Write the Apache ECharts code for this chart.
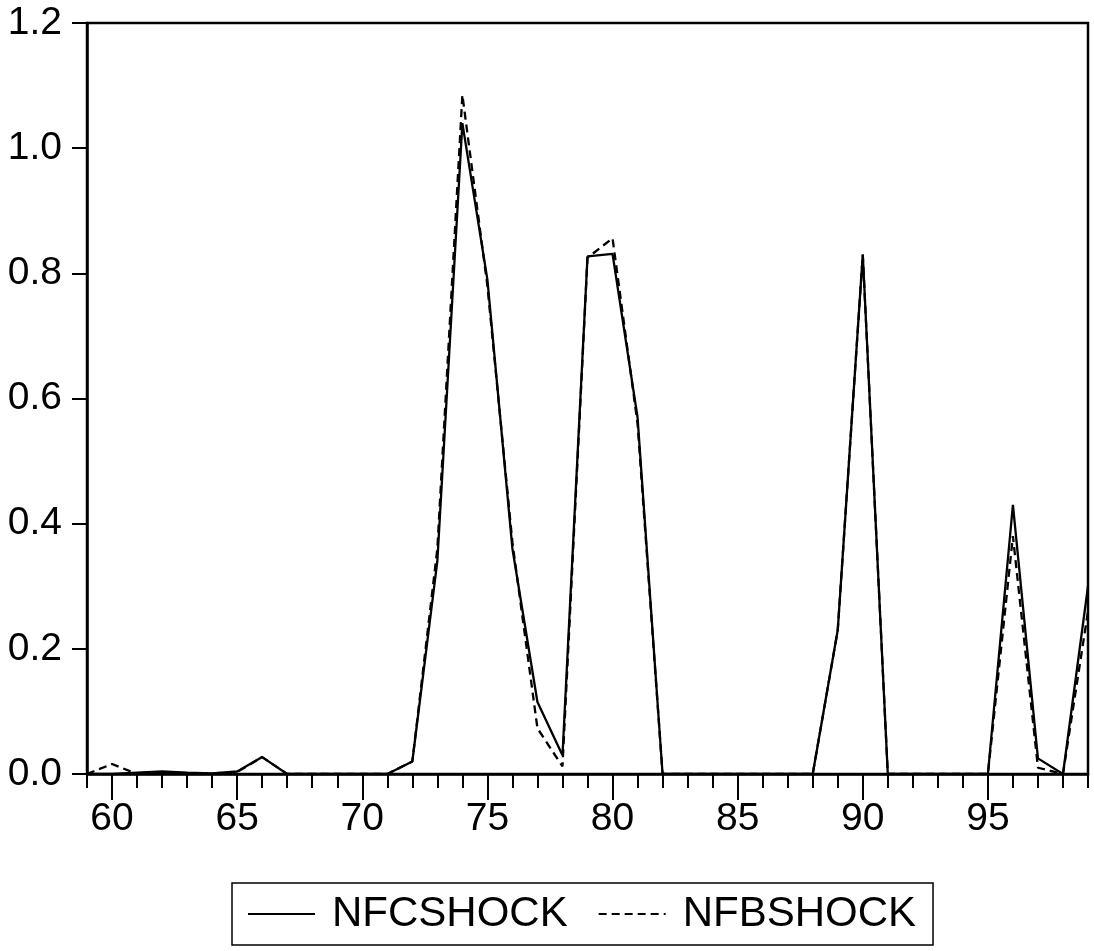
<!DOCTYPE html>
<html>
<head>
<meta charset="utf-8">
<script src="https://cdn.jsdelivr.net/npm/echarts@6/dist/echarts.min.js"></script>
<style>
html,body{margin:0;padding:0;background:#fff;}
#chart{width:1094px;height:951px;}
</style>
</head>
<body>
<div id="chart"></div>
<script>
// ---- data ----
const years = [59,60,61,62,63,64,65,66,67,68,69,70,71,72,73,74,75,76,77,78,79,80,81,82,83,84,85,86,87,88,89,90,91,92,93,94,95,96,97,98,99];
const nfcShock = [0,0,0.002,0.004,0.002,0.001,0.004,0.027,0,0,0,0,0,0.02,0.34,1.04,0.79,0.36,0.115,0.03,0.827,0.831,0.57,0,0,0,0,0,0,0,0.23,0.83,0,0,0,0,0,0.43,0.025,0,0.3];
const nfbShock = [0,0.016,0,0.002,0.001,0.001,0.003,0.027,0,0,0,0,0,0.02,0.36,1.085,0.78,0.37,0.073,0.012,0.825,0.856,0.56,0,0,0,0,0,0,0,0.23,0.83,0,0,0,0,0,0.38,0.01,0,0.26];
const xTickLabels = [60,65,70,75,80,85,90,95];
const yTickLabels = [0,0.2,0.4,0.6,0.8,1.0,1.2];
const seriesNames = ['NFCSHOCK','NFBSHOCK'];

const font = '"Liberation Sans", Arial, sans-serif';
const pairs = arr => years.map((y,i)=>[y,arr[i]]);

const chart = echarts.init(document.getElementById('chart'), null, {renderer:'canvas'});
chart.setOption({
  animation:false,
  backgroundColor:'#fff',
  grid:{left:87,right:6,top:23,bottom:177,show:true,borderColor:'#000',borderWidth:2.5,backgroundColor:'transparent'},
  xAxis:[
    {type:'value',min:59,max:99,interval:1,position:'bottom',
     axisLine:{show:true,onZero:false,lineStyle:{color:'#000',width:2.5}},
     axisTick:{show:true,inside:false,length:14,lineStyle:{color:'#000',width:2}},
     axisLabel:{show:false},splitLine:{show:false}},
    {type:'value',min:59,max:99,interval:1,position:'bottom',
     axisLine:{show:false,onZero:false},
     axisTick:{show:true,inside:false,length:26,customValues:xTickLabels,lineStyle:{color:'#000',width:2}},
     axisLabel:{show:true,customValues:xTickLabels,margin:26,color:'#000',fontSize:39,fontFamily:font},
     splitLine:{show:false}}
  ],
  yAxis:{type:'value',min:0,max:1.2,interval:0.2,
    axisLine:{show:true,onZero:false,lineStyle:{color:'#000',width:2.5}},
    axisTick:{show:true,inside:false,length:15,customValues:yTickLabels,lineStyle:{color:'#000',width:2}},
    axisLabel:{show:true,margin:25,color:'#000',fontSize:39,fontFamily:font,formatter:v=>v.toFixed(1)},
    splitLine:{show:false}},
  legend:{
    data:seriesNames,
    left:232,top:883,orient:'horizontal',
    itemWidth:67,itemHeight:14,itemGap:30,
    itemStyle:{color:'transparent',borderColor:'transparent',borderWidth:0},
    borderColor:'#000',borderWidth:1.5,borderRadius:0,
    padding:[10,17,10,15],
    textStyle:{color:'#000',fontSize:42,fontFamily:font,padding:[0,0,0,12]}
  },
  series:[
    {name:seriesNames[0],type:'line',data:pairs(nfcShock),symbol:'none',
     lineStyle:{color:'#000',width:2.3,type:'solid'},itemStyle:{color:'#000'},z:2},
    {name:seriesNames[1],type:'line',data:pairs(nfbShock),symbol:'none',
     lineStyle:{color:'#000',width:2.3,type:[8,5]},itemStyle:{color:'#000'},z:3}
  ]
});
</script>
</body>
</html>
